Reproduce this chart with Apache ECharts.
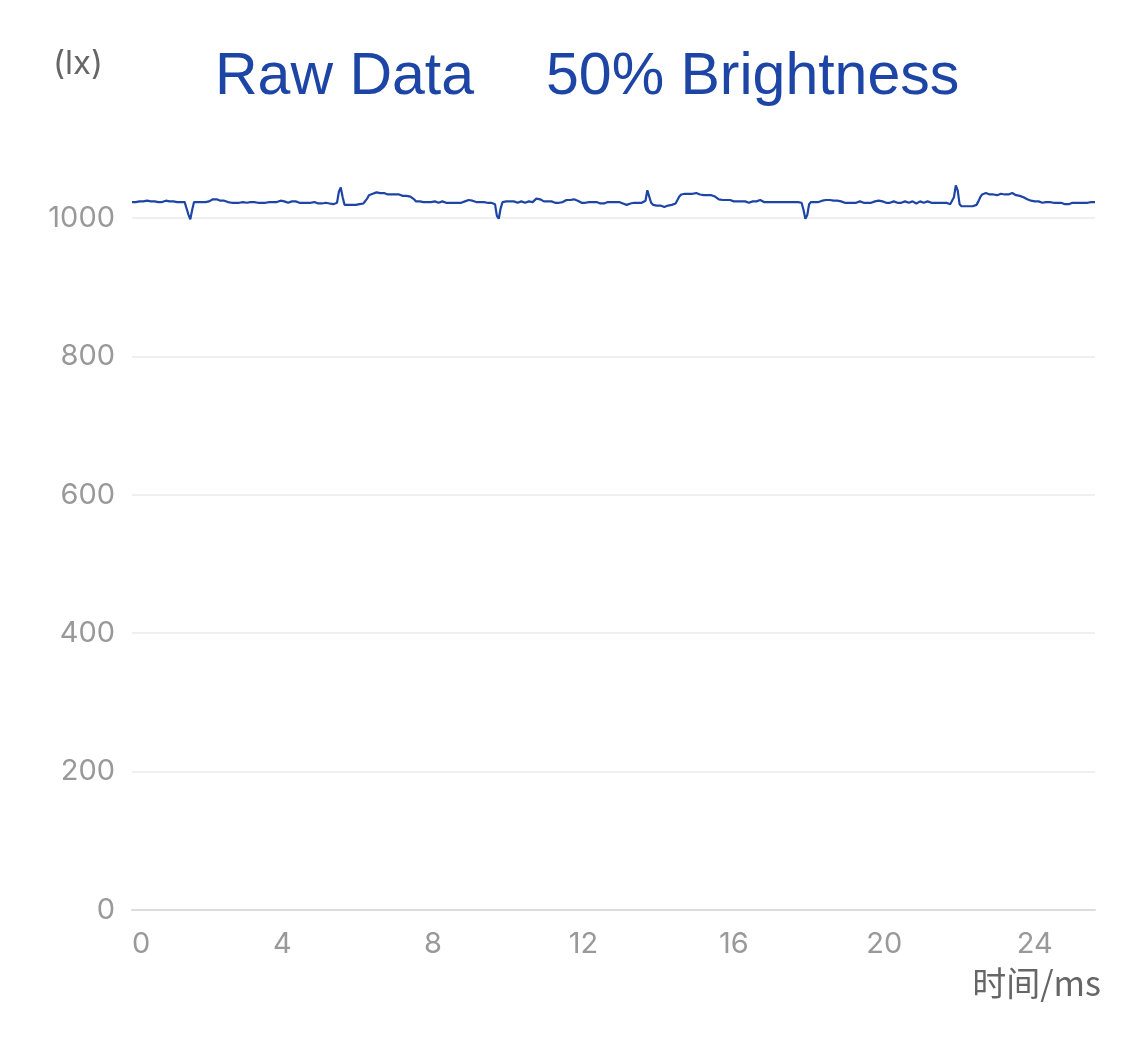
<!DOCTYPE html>
<html>
<head>
<meta charset="utf-8">
<script src="https://cdn.jsdelivr.net/npm/echarts@6/dist/echarts.min.js"></script>
<style>
html,body{margin:0;padding:0;background:#fff;}
#chart{width:1125px;height:1040px;}
</style>
</head>
<body>
<div id="chart"></div>
<script>
// ---- data ----
const titleLeft = 'Raw Data';
const titleRight = '50% Brightness';
const yAxisName = '(lx)';
const xAxisName = '时间/ms';
const sampleStepMs = 0.05;           // one reading every 0.05 ms
const xTickValues = [0, 4, 8, 12, 16, 20, 24];
const yTickValues = [0, 200, 400, 600, 800, 1000];
// illuminance readings (lx), one row per millisecond
const luxReadings = [
  1023,1024,1023,1025,1024,1023,1024,1024,1025,1023,1024,1023,1024,1025,1023,1024,1023,1024,1025,1024,
  1024,1023,1024,1024,1023,1024,1023,1022,1023,1021,1005,998,1012,1023,1024,1023,1024,1023,1022,1023,
  1023,1024,1025,1027,1028,1027,1026,1025,1026,1025,1024,1023,1022,1022,1023,1022,1023,1022,1022,1023,
  1023,1022,1022,1023,1024,1023,1022,1022,1021,1022,1023,1022,1022,1023,1024,1023,1022,1023,1024,1025,
  1026,1024,1023,1022,1023,1024,1025,1024,1023,1022,1023,1022,1023,1022,1023,1022,1022,1023,1022,1021,
  1022,1021,1022,1022,1020,1021,1019,1020,1019,1022,1038,1044,1030,1019,1018,1019,1018,1019,1018,1019,
  1019,1020,1019,1021,1022,1028,1033,1035,1035,1036,1037,1036,1036,1035,1036,1035,1034,1035,1034,1034,
  1034,1033,1034,1033,1032,1033,1032,1032,1031,1030,1027,1024,1023,1024,1023,1023,1024,1023,1024,1023,
  1023,1024,1023,1022,1023,1024,1023,1022,1023,1022,1021,1022,1021,1022,1023,1022,1023,1024,1025,1026,
  1026,1025,1024,1023,1024,1023,1022,1023,1022,1022,1021,1022,1021,1020,1003,999,1014,1023,1023,1024,
  1023,1024,1023,1024,1023,1022,1023,1024,1023,1022,1023,1024,1022,1023,1025,1028,1026,1027,1025,1024,
  1025,1024,1023,1024,1023,1022,1021,1022,1021,1023,1025,1026,1027,1026,1027,1027,1026,1025,1023,1022,
  1021,1022,1021,1023,1024,1023,1022,1023,1022,1021,1022,1021,1022,1023,1024,1023,1022,1023,1022,1023,
  1022,1021,1020,1019,1020,1021,1021,1022,1021,1022,1021,1022,1023,1025,1040,1042,1022,1019,1020,1018,
  1019,1018,1017,1016,1017,1018,1017,1019,1020,1021,1026,1031,1034,1035,1035,1034,1035,1034,1035,1036,
  1036,1035,1034,1034,1033,1032,1033,1034,1033,1032,1031,1029,1027,1027,1026,1027,1026,1025,1026,1025,
  1024,1025,1024,1023,1024,1025,1024,1023,1022,1023,1024,1023,1024,1025,1026,1025,1023,1022,1023,1022,
  1023,1022,1023,1024,1023,1022,1023,1022,1023,1022,1023,1022,1023,1024,1023,1022,1022,1012,999,1004,
  1020,1023,1024,1023,1024,1023,1024,1025,1024,1026,1027,1026,1027,1025,1024,1025,1023,1024,1023,1022,
  1023,1022,1023,1022,1021,1022,1023,1024,1023,1022,1023,1022,1023,1022,1023,1024,1023,1025,1026,1024,
  1023,1022,1023,1022,1023,1024,1023,1022,1021,1022,1023,1024,1023,1022,1023,1024,1026,1021,1023,1024,
  1023,1022,1023,1024,1023,1022,1023,1022,1023,1022,1023,1022,1021,1022,1021,1020,1021,1030,1047,1040,
  1020,1017,1016,1017,1016,1017,1016,1017,1018,1019,1024,1030,1034,1035,1036,1035,1034,1035,1034,1034,
  1033,1034,1035,1034,1034,1033,1034,1035,1036,1034,1033,1034,1032,1032,1030,1028,1027,1026,1025,1024,
  1024,1023,1024,1023,1022,1023,1023,1022,1023,1022,1022,1021,1022,1021,1022,1021,1020,1019,1020,1021,
  1022,1021,1022,1023,1022,1021,1022,1023,1022,1023,1023,1022,1023
];

const seriesData = luxReadings.map((v, i) => [+(i * sampleStepMs).toFixed(2), v]);

const chart = echarts.init(document.getElementById('chart'), null, {renderer: 'canvas'});
const blue = '#1d45a6';
chart.setOption({
  animation: false,
  backgroundColor: '#ffffff',
  title: [
    {text: titleLeft, left: 215, top: 48, padding: 0,
     textStyle: {color: blue, fontSize: 59, fontWeight: 'normal', fontFamily: 'Liberation Sans'}},
    {text: titleRight, left: 546, top: 48, padding: 0,
     textStyle: {color: blue, fontSize: 59, fontWeight: 'normal', fontFamily: 'Liberation Sans'}}
  ],
  grid: {left: 132, right: 30, top: 148.8, bottom: 130, containLabel: false},
  xAxis: {
    type: 'value', min: 0, max: 25.6, interval: xTickValues[1] - xTickValues[0],
    name: xAxisName, nameLocation: 'end', nameGap: 6,
    nameTextStyle: {color: '#666', fontSize: 34, fontFamily: 'Noto Sans CJK SC',
      align: 'right', verticalAlign: 'top', padding: [56, 0, 0, 0]},
    axisLine: {show: true, lineStyle: {color: '#dcdcdc', width: 2}},
    axisTick: {show: false},
    splitLine: {show: false},
    axisLabel: {color: '#999', fontSize: 29, fontFamily: 'Inter', margin: 20,
      showMaxLabel: false, alignMinLabel: 'left',
      formatter: v => xTickValues.includes(v) ? String(v) : ''}
  },
  yAxis: {
    type: 'value', min: 0, max: 1100, interval: yTickValues[1] - yTickValues[0],
    name: yAxisName, nameLocation: 'end', nameGap: 85,
    nameTextStyle: {color: '#666', fontSize: 33, fontFamily: 'Inter',
      align: 'right', verticalAlign: 'middle', padding: [0, 29, 0, 0]},
    axisLine: {show: false}, axisTick: {show: false},
    splitLine: {show: true, showMaxLine: false, lineStyle: {color: '#efefef', width: 2}},
    axisLabel: {color: '#999', fontSize: 29, fontFamily: 'Inter', margin: 17,
      showMaxLabel: false,
      formatter: v => yTickValues.includes(v) ? String(v) : ''}
  },
  series: [{
    type: 'line', data: seriesData, showSymbol: false, symbol: 'none',
    lineStyle: {color: blue, width: 2.2}, smooth: false
  }]
});
</script>
</body>
</html>
